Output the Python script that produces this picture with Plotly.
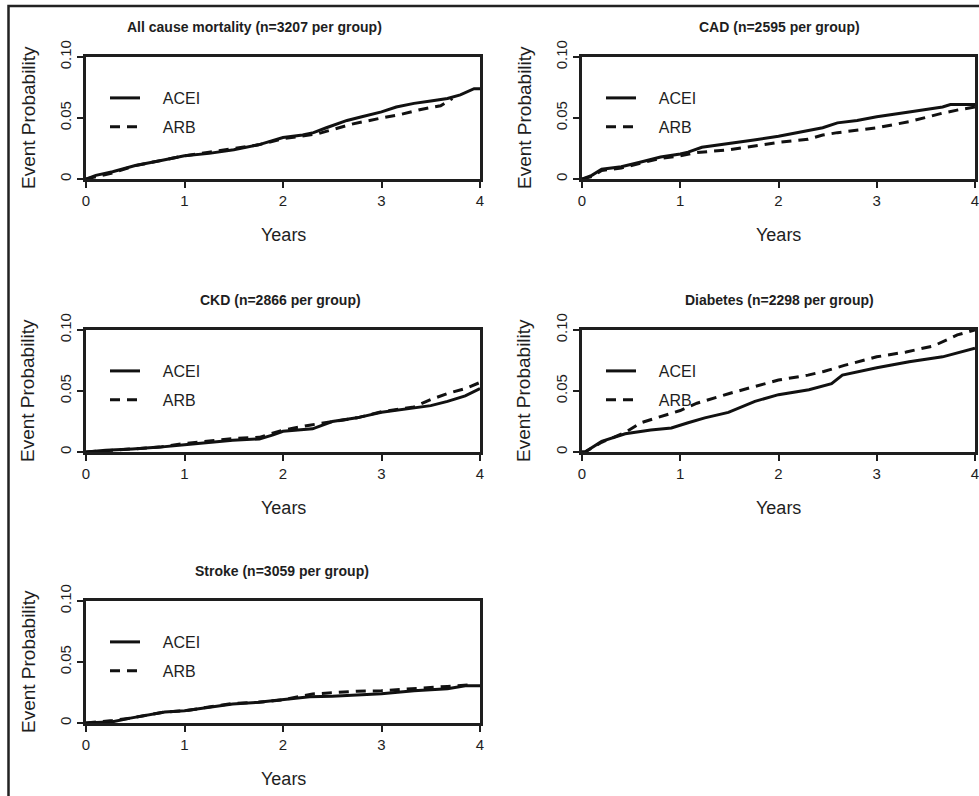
import plotly.graph_objects as go

W, H = 979, 796

titles = [
    "All cause mortality (n=3207 per group)",
    "CAD (n=2595 per group)",
    "CKD (n=2866 per group)",
    "Diabetes (n=2298 per group)",
    "Stroke (n=3059 per group)",
]
series_names = ["ACEI", "ARB"]
x_ticks = [0, 1, 2, 3, 4]
x_ticklabels = ["0", "1", "2", "3", "4"]
y_ticks = [0, 0.05, 0.10]
y_ticklabels = ["0", "0.05", "0.10"]

# All cause mortality
mort_acei_t = [0, 0.1, 0.27, 0.5, 0.75, 1.0, 1.25, 1.5, 1.75, 2.0, 2.2, 2.31, 2.44, 2.65, 2.8, 3.0, 3.15, 3.33, 3.5, 3.67, 3.8, 3.94, 4.0]
mort_acei_p = [0, 0.003, 0.006, 0.011, 0.015, 0.019, 0.021, 0.024, 0.028, 0.034, 0.036, 0.038, 0.042, 0.048, 0.051, 0.055, 0.059, 0.062, 0.064, 0.066, 0.069, 0.074, 0.074]
mort_arb_t = [0, 0.1, 0.27, 0.5, 0.75, 1.0, 1.25, 1.5, 1.75, 2.0, 2.2, 2.35, 2.48, 2.7, 3.0, 3.2, 3.4, 3.6, 3.72]
mort_arb_p = [0, 0.002, 0.005, 0.011, 0.015, 0.019, 0.022, 0.025, 0.028, 0.033, 0.035, 0.037, 0.040, 0.045, 0.050, 0.053, 0.057, 0.060, 0.066]

# CAD
cad_acei_t = [0, 0.1, 0.2, 0.4, 0.6, 0.8, 1.0, 1.08, 1.22, 1.5, 1.75, 2.0, 2.3, 2.45, 2.6, 2.8, 3.0, 3.15, 3.33, 3.5, 3.67, 3.75, 4.0]
cad_acei_p = [0, 0.003, 0.008, 0.010, 0.014, 0.018, 0.0205, 0.022, 0.026, 0.029, 0.032, 0.035, 0.040, 0.042, 0.046, 0.048, 0.051, 0.053, 0.055, 0.057, 0.059, 0.061, 0.061]
cad_arb_t = [0, 0.1, 0.2, 0.4, 0.6, 0.8, 1.0, 1.15, 1.5, 1.75, 2.0, 2.3, 2.45, 2.6, 3.0, 3.33, 3.67, 3.85, 4.0]
cad_arb_p = [0, 0.002, 0.007, 0.009, 0.013, 0.017, 0.019, 0.0215, 0.024, 0.027, 0.030, 0.0325, 0.036, 0.038, 0.042, 0.047, 0.054, 0.057, 0.059]

# CKD
ckd_acei_t = [0, 0.2, 0.47, 0.75, 1.0, 1.25, 1.49, 1.76, 1.9, 2.0, 2.15, 2.3, 2.5, 2.75, 3.0, 3.33, 3.5, 3.67, 3.85, 4.0]
ckd_acei_p = [0, 0.0015, 0.0025, 0.004, 0.006, 0.008, 0.0096, 0.0107, 0.014, 0.017, 0.018, 0.019, 0.025, 0.028, 0.0325, 0.036, 0.038, 0.0415, 0.046, 0.052]
ckd_arb_t = [0, 0.2, 0.47, 0.75, 1.0, 1.25, 1.49, 1.76, 2.0, 2.27, 2.5, 2.75, 3.0, 3.33, 3.5, 3.67, 3.85, 4.0]
ckd_arb_p = [0, 0.001, 0.002, 0.004, 0.007, 0.009, 0.011, 0.012, 0.018, 0.022, 0.025, 0.028, 0.033, 0.037, 0.043, 0.048, 0.052, 0.057]

# Diabetes
dm_acei_t = [0, 0.03, 0.2, 0.44, 0.7, 0.91, 1.08, 1.25, 1.49, 1.76, 2.0, 2.31, 2.54, 2.65, 3.0, 3.33, 3.67, 4.0]
dm_acei_p = [0, 0, 0.0087, 0.015, 0.018, 0.0197, 0.024, 0.028, 0.0325, 0.0415, 0.047, 0.051, 0.056, 0.063, 0.069, 0.074, 0.078, 0.085]
dm_arb_t = [0, 0.03, 0.2, 0.44, 0.6, 1.0, 1.17, 1.5, 2.0, 2.3, 2.46, 2.67, 3.0, 3.3, 3.58, 3.82, 4.0]
dm_arb_p = [0, 0, 0.008, 0.016, 0.024, 0.034, 0.040, 0.048, 0.059, 0.063, 0.066, 0.071, 0.078, 0.082, 0.087, 0.096, 0.100]

# Stroke
st_acei_t = [0, 0.27, 0.45, 0.6, 0.8, 1.0, 1.25, 1.49, 1.75, 2.0, 2.27, 2.5, 2.75, 3.0, 3.33, 3.67, 3.85, 4.0]
st_acei_p = [0, 0.001, 0.004, 0.006, 0.009, 0.010, 0.013, 0.0156, 0.017, 0.019, 0.0216, 0.022, 0.023, 0.024, 0.0265, 0.028, 0.0306, 0.0306]
st_arb_t = [0, 0.27, 0.45, 0.6, 0.8, 1.0, 1.25, 1.49, 1.75, 2.0, 2.3, 2.5, 2.75, 3.0, 3.33, 3.67, 3.9]
st_arb_p = [0, 0.002, 0.004, 0.006, 0.009, 0.010, 0.013, 0.016, 0.017, 0.019, 0.0238, 0.025, 0.026, 0.0265, 0.028, 0.030, 0.0314]

panels = [
    (mort_acei_t, mort_acei_p, mort_arb_t, mort_arb_p),
    (cad_acei_t, cad_acei_p, cad_arb_t, cad_arb_p),
    (ckd_acei_t, ckd_acei_p, ckd_arb_t, ckd_arb_p),
    (dm_acei_t, dm_acei_p, dm_arb_t, dm_arb_p),
    (st_acei_t, st_acei_p, st_arb_t, st_arb_p),
]

# pixel boxes (left, right, top, bottom)
boxes = [
    (86, 480, 57, 179),
    (582, 975, 57, 179),
    (86, 480, 330, 452),
    (582, 975, 330, 452),
    (86, 480, 601, 723),
]
title_cx = [255, 779, 280, 779, 282]

FONT = "Liberation Sans, Arial, sans-serif"
INK = "#1e1e1e"
NB = "\u00a0"

fig = go.Figure()
layout = dict(
    width=W, height=H,
    margin=dict(l=0, r=0, t=0, b=0, autoexpand=False),
    paper_bgcolor="white", plot_bgcolor="white",
    font=dict(family=FONT, color=INK),
    showlegend=True,
)
annotations = []

for i, (box, data) in enumerate(zip(boxes, panels)):
    k = "" if i == 0 else str(i + 1)
    l, r, t, b = box
    xa = "xaxis" + k
    ya = "yaxis" + k
    lg = "legend" + k
    layout[xa] = dict(
        domain=[l / W, r / W], range=[0, 4], anchor="y" + k,
        tickvals=x_ticks, ticktext=x_ticklabels, ticks="outside", ticklen=6, tickwidth=2,
        tickcolor=INK, showline=True, linecolor=INK, linewidth=2.5, mirror=True,
        showgrid=False, zeroline=False, tickfont=dict(size=15, family=FONT, color=INK),
        fixedrange=True, automargin=False, ticklabeloverflow="allow",
    )
    layout[ya] = dict(
        domain=[1 - b / H, 1 - t / H], range=[0, 0.1], anchor="x" + k,
        tickvals=y_ticks, ticktext=y_ticklabels, ticks="outside", ticklen=6, tickwidth=2,
        tickcolor=INK, showline=True, linecolor=INK, linewidth=2.5, mirror=True,
        showgrid=False, zeroline=False, tickangle=-90,
        tickfont=dict(size=15, family=FONT, color=INK), fixedrange=True, automargin=False,
        ticklabeloverflow="allow",
    )
    layout[lg] = dict(
        x=(l + 19) / W, y=1 - (t + 24) / H, xanchor="left", yanchor="top",
        bgcolor="rgba(0,0,0,0)", font=dict(size=16, family=FONT, color=INK),
        tracegroupgap=5, traceorder="grouped",
    )
    at, ap, bt, bp = data
    fig.add_trace(go.Scatter(
        x=at, y=ap, mode="lines", name=NB * 4 + series_names[0],
        line=dict(color="#111111", width=3), xaxis="x" + k, yaxis="y" + k,
        legend=lg, legendgroup=f"a{i}",
    ))
    fig.add_trace(go.Scatter(
        x=bt, y=bp, mode="lines", name=NB * 4 + series_names[1],
        line=dict(color="#111111", width=3, dash="10px,7px"), xaxis="x" + k, yaxis="y" + k,
        legend=lg, legendgroup=f"b{i}",
    ))
    # panel title
    annotations.append(dict(
        text="<b>" + titles[i] + "</b>", xref="paper", yref="paper",
        x=title_cx[i] / W, y=1 - (t - 30) / H, xanchor="center", yanchor="middle",
        showarrow=False, font=dict(size=14, family=FONT, color=INK),
    ))
    # x axis title
    annotations.append(dict(
        text="Years", xref="x" + k + " domain", yref="y" + k + " domain",
        x=0.5, y=0, yshift=-56, xanchor="center", yanchor="middle",
        showarrow=False, font=dict(size=18, family=FONT, color=INK),
    ))
    # y axis title
    annotations.append(dict(
        text="Event Probability", xref="x" + k + " domain", yref="y" + k + " domain",
        x=0, y=0.5, xshift=-58, xanchor="center", yanchor="middle", textangle=-90,
        showarrow=False, font=dict(size=19, family=FONT, color=INK),
    ))

layout["annotations"] = annotations
layout["shapes"] = [dict(
    type="rect", xref="paper", yref="paper",
    x0=8.5 / W, x1=1.05, y0=-0.05, y1=1 - 6 / H,
    line=dict(color="#222222", width=2.5), fillcolor="rgba(0,0,0,0)",
)]
fig.update_layout(**layout)
fig.write_html(
    "out.html",
    config={"displayModeBar": False},
    post_script="document.body.style.margin='0';document.body.style.overflow='hidden';",
)
